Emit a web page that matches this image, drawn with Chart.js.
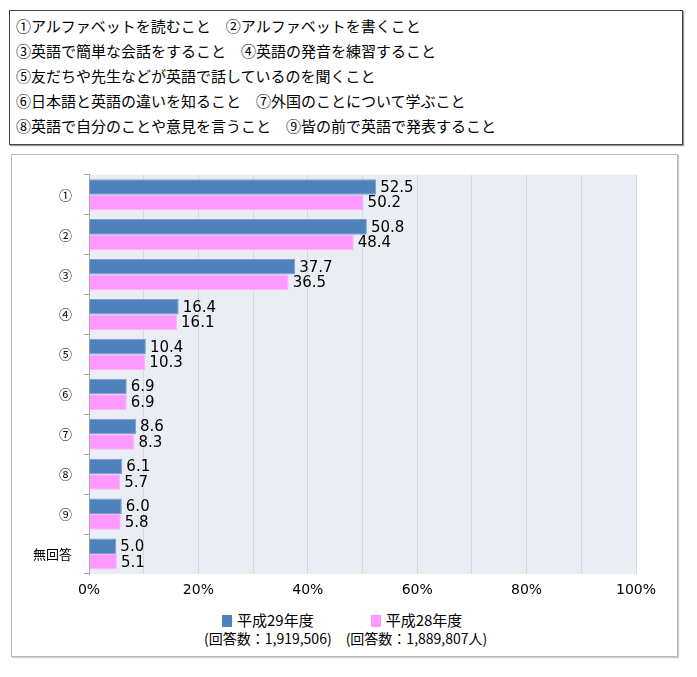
<!DOCTYPE html>
<html lang="ja">
<head>
<meta charset="utf-8">
<script src="https://cdn.jsdelivr.net/npm/chart.js@4.4.1/dist/chart.umd.min.js"></script>
<style>
  body { margin: 0; background: #fff; font-family: "Noto Sans CJK JP", "DejaVu Sans", sans-serif; }
  #notes {
    position: absolute; left: 9px; top: 10px; width: 674px; height: 135px;
    border: 1px solid #444; box-shadow: 1px 1px 1px #999;
    padding: 2px 0 0 6px; box-sizing: border-box;
    font-size: 15px; line-height: 25px; color: #000; white-space: nowrap;
  }
  #box {
    position: absolute; left: 11px; top: 154px; width: 667px; height: 503px;
    border: 1px solid #bbb; box-shadow: 1px 1px 1px #ccc; box-sizing: border-box;
  }
  #wrap { position: absolute; left: 0; top: 0; width: 665px; height: 450px; }
  #legend {
    position: absolute; left: 192px; top: 455px; display: flex; gap: 14px;
    font-size: 15px; color: #000;
  }
  .item { text-align: center; line-height: 19px; }
  .item .sw { display: inline-block; width: 10px; height: 12px; margin-right: 5px; vertical-align: -1px; }
  .item .sub { font-size: 14px; }
</style>
</head>
<body>
<div id="notes">
  <div>①アルファベットを読むこと　②アルファベットを書くこと</div>
  <div>③英語で簡単な会話をすること　④英語の発音を練習すること</div>
  <div>⑤友だちや先生などが英語で話しているのを聞くこと</div>
  <div>⑥日本語と英語の違いを知ること　⑦外国のことについて学ぶこと</div>
  <div>⑧英語で自分のことや意見を言うこと　⑨皆の前で英語で発表すること</div>
</div>
<div id="box">
  <div id="wrap"><canvas id="c"></canvas></div>
  <div id="legend"></div>
</div>
<script>
const categories = ["①", "②", "③", "④", "⑤", "⑥", "⑦", "⑧", "⑨", "無回答"];
const seriesNames = ["平成29年度", "平成28年度"];
const seriesNotes = ["(回答数：1,919,506)", "(回答数：1,889,807人)"];
const h29 = [52.5, 50.8, 37.7, 16.4, 10.4, 6.9, 8.6, 6.1, 6.0, 5.0];
const h28 = [50.2, 48.4, 36.5, 16.1, 10.3, 6.9, 8.3, 5.7, 5.8, 5.1];
const xTicks = [0, 20, 40, 60, 80, 100];
const colors = ["#4f81bd", "#ff99ff"];
const borders = ["#7c9fd0", "#ffb3ff"];

const plotBg = {
    id: 'plotBg',
    beforeDraw(chart) {
        const a = chart.chartArea;
        const ctx = chart.ctx;
        ctx.save();
        ctx.fillStyle = '#eaedf4';
        ctx.fillRect(a.left, a.top, a.right - a.left, a.bottom - a.top);
        ctx.restore();
    }
};

const valueLabels = {
    id: 'valueLabels',
    afterDatasetsDraw(chart) {
        const ctx = chart.ctx;
        ctx.save();
        ctx.font = '15px "DejaVu Sans", sans-serif';
        ctx.fillStyle = '#000';
        ctx.textBaseline = 'middle';
        ctx.textAlign = 'left';
        chart.data.datasets.forEach((ds, i) => {
            chart.getDatasetMeta(i).data.forEach((bar, j) => {
                ctx.fillText(ds.data[j].toFixed(1), bar.x + 4, bar.y + 1);
            });
        });
        ctx.restore();
    }
};

new Chart(document.getElementById('c'), {
    type: 'bar',
    data: {
        labels: categories,
        datasets: [h29, h28].map((d, i) => ({
            label: seriesNames[i],
            data: d,
            backgroundColor: colors[i],
            borderColor: borders[i],
            borderWidth: 1,
            categoryPercentage: 0.78,
            barPercentage: 1.0
        }))
    },
    options: {
        indexAxis: 'y',
        responsive: true,
        maintainAspectRatio: false,
        animation: false,
        layout: { padding: { left: 0, right: 41, top: 19, bottom: 0 } },
        plugins: { legend: { display: false }, tooltip: { enabled: false } },
        scales: {
            x: {
                min: 0, max: 100,
                afterFit(scale) { scale.height = 31; },
                afterBuildTicks(scale) {
                    scale.ticks = [];
                    for (let v = 0; v <= 100; v += 10) scale.ticks.push({ value: v });
                },
                ticks: {
                    padding: 8,
                    font: { family: '"DejaVu Sans", sans-serif', size: 14 },
                    color: '#000',
                    callback: v => xTicks.includes(v) ? v + '%' : ''
                },
                grid: { color: '#d6d8dc', drawTicks: false, lineWidth: 1 },
                border: { display: false }
            },
            y: {
                afterFit(scale) { scale.width = 77; },
                ticks: {
                    padding: 12,
                    font: { family: '"Noto Sans CJK JP", sans-serif', size: 13 },
                    color: '#000'
                },
                grid: { drawOnChartArea: false, tickLength: 5, color: '#a6a6a6', offset: true },
                border: { display: true, color: '#a6a6a6' }
            }
        }
    },
    plugins: [plotBg, valueLabels]
});

const legend = document.getElementById('legend');
seriesNames.forEach((name, i) => {
    const item = document.createElement('div');
    item.className = 'item';
    item.innerHTML = '<div><span class="sw" style="background:' + colors[i] + '"></span>' + name + '</div>'
        + '<div class="sub">' + seriesNotes[i] + '</div>';
    legend.appendChild(item);
});
</script>
</body>
</html>
